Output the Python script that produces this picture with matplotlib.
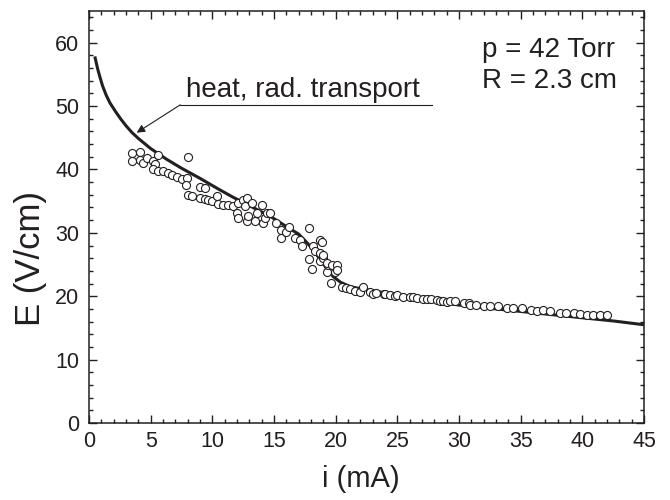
import numpy as np
import matplotlib
matplotlib.use('Agg')
import matplotlib.pyplot as plt
from matplotlib.ticker import MultipleLocator

plt.rcParams['font.family'] = ['Liberation Sans', 'DejaVu Sans']

# measured points (current in mA, field in V/cm)
i_meas = [3.46, 3.46, 4.14, 4.14, 4.41, 4.68, 5.22, 5.62, 5.35, 5.22, 5.62, 6.03, 6.43, 6.7,
          7.11, 7.51, 7.92, 7.87, 8.05, 8.05, 8.33, 9.0, 9.41, 9.0, 9.41, 9.68, 9.95, 10.36,
          10.5, 10.9, 11.3, 11.7, 12.1, 12.5, 12.8, 12.0, 12.1, 12.8,
          12.65, 12.9, 13.2, 13.5, 13.6, 14.0, 14.1, 14.3, 14.4, 14.7, 15.2, 15.6, 15.6, 16.0,
          16.2, 16.7, 17.1, 17.25, 17.8, 17.8, 18.2, 18.3, 18.7, 18.7, 18.1, 18.7, 19.0, 19.3,
          19.4, 19.6, 18.9, 19.0, 19.3, 19.7, 20.1, 19.95, 20.1, 20.5, 20.8,
          21.2, 21.6, 22.0, 22.2, 22.8, 23.0, 23.3, 23.9, 24.0, 24.4, 24.8, 25.0, 25.5, 26.0,
          26.3, 26.6, 27.1, 27.4, 27.7, 28.2, 28.5, 28.7, 29.0, 29.3, 29.7, 30.4, 30.8,
          30.9, 31.4, 32.0, 32.5, 33.2, 33.9, 34.4, 35.1, 35.8, 36.3, 36.8, 37.4, 38.2, 38.7,
          39.3, 39.8, 40.4, 40.9, 41.4, 42.0]
E_meas = [42.6, 41.3, 42.8, 41.5, 41.0, 41.8, 41.3, 42.3, 40.8, 40.0, 39.7, 39.7, 39.4, 39.2,
          38.8, 38.5, 38.7, 37.6, 42.0, 36.0, 35.8, 37.3, 37.1, 35.5, 35.4, 35.2, 35.0, 35.8,
          34.6, 34.4, 34.4, 34.3, 34.7, 35.2, 35.5, 33.1, 32.3, 31.8,
          34.2, 32.6, 34.7, 31.8, 33.1, 34.4, 31.5, 32.3, 33.1, 33.1, 31.5, 30.5, 29.2, 30.2,
          31.0, 29.2, 28.9, 27.9, 30.8, 25.8, 27.9, 27.1, 28.9, 26.8, 24.3, 25.5, 26.0, 23.9,
          25.0, 22.1, 28.6, 26.5, 25.2, 25.0, 25.0, 23.9, 24.2, 21.5, 21.3,
          21.1, 20.9, 20.7, 21.5, 20.7, 20.4, 20.5, 20.4, 20.3, 20.2, 20.0, 20.2, 19.95, 19.9,
          19.8, 19.7, 19.5, 19.6, 19.5, 19.4, 19.3, 19.3, 19.1, 19.2, 19.2, 18.9, 19.0,
          18.6, 18.6, 18.5, 18.4, 18.4, 18.1, 18.1, 18.1, 17.9, 17.7, 17.9, 17.7, 17.4, 17.4,
          17.3, 17.2, 17.1, 17.1, 17.1, 17.0]

# model curve: heat, rad. transport
i_model = [0.5, 0.7, 0.9, 1.1, 1.4, 1.7, 2.2, 2.6, 3.0, 3.5, 4.0, 5.0, 6.3, 7.5, 9.0, 10.5,
           11.7, 13.1, 14.7, 16.0, 17.0, 17.6, 18.2, 18.7, 19.3, 19.8, 20.4, 21.2, 22.0,
           23.5, 25.0, 27.5, 30.0, 32.5, 35.0, 37.5, 40.0, 42.5, 45.0]
E_model = [57.6, 55.9, 54.5, 53.2, 51.7, 50.5, 49.0, 47.9, 46.9, 45.8, 44.9, 43.3, 41.6, 40.2,
           38.6, 36.9, 35.6, 34.2, 32.6, 31.0, 29.8, 28.6, 27.3, 25.9, 24.3, 23.1, 22.2, 21.5,
           21.2, 20.7, 20.2, 19.4, 18.6, 18.1, 17.6, 17.1, 16.6, 16.1, 15.5]

ink = '#231f20'

fig = plt.figure(figsize=(6.7, 5.0), dpi=100)
ax = fig.add_axes([0.1328, 0.154, 0.8284, 0.824])

ax.plot(i_model, E_model, color=ink, lw=2.2, zorder=2)
ax.plot(i_meas, E_meas, 'o', ms=5.8, mfc='white', mec=ink, mew=0.8, zorder=3)

ax.set_xlim(0, 45)
ax.set_ylim(0, 65)
ax.xaxis.set_major_locator(MultipleLocator(5))
ax.xaxis.set_minor_locator(MultipleLocator(1))
ax.yaxis.set_major_locator(MultipleLocator(10))
ax.yaxis.set_minor_locator(MultipleLocator(2))
ax.tick_params(which='both', direction='in', top=True, right=True, color=ink, width=1.0)
ax.tick_params(which='major', length=5.5, labelsize=15.5, labelcolor=ink)
ax.tick_params(which='minor', length=3)
ax.tick_params(axis='x', pad=6)
ax.tick_params(axis='y', pad=7)
for s in ax.spines.values():
    s.set_linewidth(1.1)
    s.set_color(ink)

ax.set_xlabel('i (mA)', fontsize=21, color=ink)
ax.set_ylabel('E (V/cm)', fontsize=25, color=ink)
ax.xaxis.set_label_coords(0.49, -0.103)
ax.yaxis.set_label_coords(-0.075, 0.40)

# annotation
ax.plot([7.4, 27.8], [50.2, 50.2], color=ink, lw=0.8)
ax.annotate('', xy=(3.87, 45.8), xytext=(7.4, 50.2),
            arrowprops=dict(arrowstyle='-|>', color=ink, lw=0.8, mutation_scale=12,
                            shrinkA=0, shrinkB=0))
ax.text(7.87, 51.5, 'heat, rad. transport', fontsize=20, color=ink, va='baseline')

ax.text(31.9, 57.8, 'p = 42 Torr', fontsize=20, color=ink, va='baseline')
ax.text(31.9, 52.9, 'R = 2.3 cm', fontsize=20, color=ink, va='baseline')

plt.savefig('out.png', dpi=100)
